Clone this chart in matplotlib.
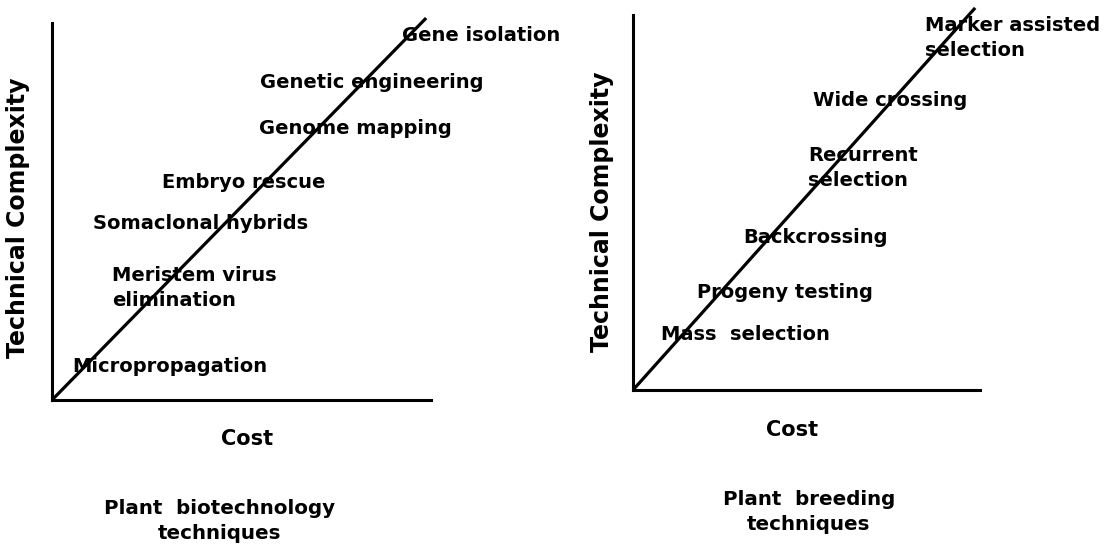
import matplotlib
matplotlib.use("Agg")
import matplotlib.pyplot as plt

############################################################ DATA
# left panel : plant biotechnology techniques
biotech_labels = ['Gene isolation', 'Genetic engineering', 'Genome mapping',
                  'Embryo rescue', 'Somaclonal hybrids',
                  'Meristem virus\nelimination', 'Micropropagation']
biotech_cost = [0.923, 0.549, 0.546, 0.290, 0.108, 0.158, 0.053]
biotech_complexity = [0.968, 0.843, 0.719, 0.578, 0.467, 0.296, 0.088]
biotech_trend_x = [0.0, 0.987]
biotech_trend_y = [0.0, 1.013]

# right panel : plant breeding techniques
breeding_labels = ['Marker assisted\nselection', 'Wide crossing',
                   'Recurrent\nselection', 'Backcrossing',
                   'Progeny testing', 'Mass  selection']
breeding_cost = [0.841, 0.519, 0.504, 0.317, 0.184, 0.081]
breeding_complexity = [0.940, 0.773, 0.591, 0.408, 0.259, 0.147]
breeding_trend_x = [0.0, 0.986]
breeding_trend_y = [0.0, 1.019]

plt.rcParams['font.family'] = ['DejaVu Sans']
plt.rcParams['font.weight'] = 'bold'

fig = plt.figure(figsize=(11.07, 5.48), dpi=100)


def panel(rect, labels, cost, complexity, tx, ty, title, xlab_pos, ylab_pos, title_pos):
    ax = fig.add_axes(rect)
    ax.set_xlim(0, 1)
    ax.set_ylim(0, 1)
    for s in ['top', 'right']:
        ax.spines[s].set_visible(False)
    for s in ['left', 'bottom']:
        ax.spines[s].set_linewidth(2.2)
    ax.set_xticks([])
    ax.set_yticks([])
    ax.plot(tx, ty, color='black', lw=2.3, clip_on=False, solid_capstyle='butt')
    for lab, x, y in zip(labels, cost, complexity):
        ax.text(x, y, lab, fontsize=14, fontweight='bold', ha='left', va='center',
                linespacing=1.4, clip_on=False)
    ax.set_xlabel('Cost', fontsize=15, fontweight='bold')
    ax.xaxis.set_label_coords(*xlab_pos)
    ax.set_ylabel('Technical Complexity', fontsize=17, fontweight='bold')
    ax.yaxis.set_label_coords(*ylab_pos)
    ax.text(title_pos[0], title_pos[1], title, transform=ax.transAxes, fontsize=14.3,
            fontweight='bold', ha='center', va='center', linespacing=1.45)
    return ax


panel([0.0470, 0.2701, 0.3424, 0.6880], biotech_labels, biotech_cost, biotech_complexity,
      biotech_trend_x, biotech_trend_y, 'Plant  biotechnology\ntechniques',
      (0.515, -0.077), (-0.058, 0.483), (0.443, -0.321))
panel([0.5718, 0.2883, 0.3135, 0.6843], breeding_labels, breeding_cost, breeding_complexity,
      breeding_trend_x, breeding_trend_y, 'Plant  breeding\ntechniques',
      (0.458, -0.080), (-0.055, 0.475), (0.507, -0.325))

fig.savefig('out.png', dpi=100)
